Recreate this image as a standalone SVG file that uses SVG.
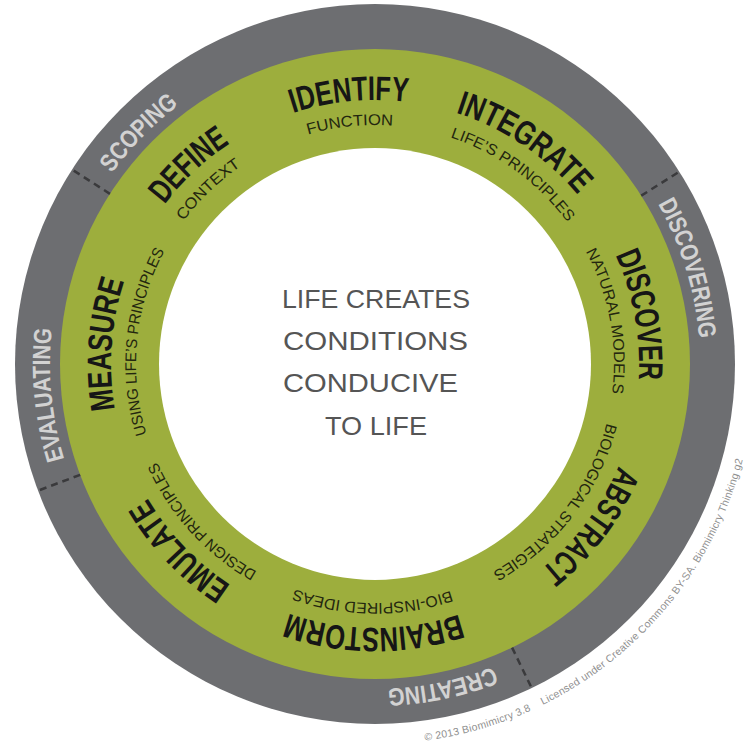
<svg xmlns="http://www.w3.org/2000/svg" width="750" height="745" viewBox="0 0 750 745">
<style>
 .title{font-family:"Liberation Sans",Arial,sans-serif;font-weight:bold;font-size:34px;fill:#161616;}
 .sub{font-family:"Liberation Sans",Arial,sans-serif;font-size:15.5px;fill:#23260f;}
 .phase{font-family:"Liberation Sans",Arial,sans-serif;font-weight:bold;font-size:25px;fill:#d2d2d2;}
 .center{font-family:"Liberation Sans",Arial,sans-serif;font-size:26px;fill:#555555;}
 .credit{font-family:"Liberation Sans",Arial,sans-serif;font-size:10.5px;fill:#8f8f8f;}
 .sep{stroke:#3a3a3c;stroke-width:2.5;stroke-dasharray:7 5;fill:none;}
</style>
<defs>
 <path id="rTitle" d="M111,364 A264,264 0 0 1 639,364"/>
 <path id="rSub" d="M136,364 A239,239 0 0 1 614,364"/>
 <path id="rPhase" d="M50,364 A325,325 0 0 1 700,364"/>
 <path id="rCredit" d="M-5,364 A380,380 0 0 0 755,364"/>
</defs>
<rect width="750" height="745" fill="#ffffff"/>
<g id="rings">
 <circle cx="375" cy="364" r="360" fill="#6d6e71"/>
 <circle cx="375" cy="364" r="315" fill="#9dae3d"/>
 <circle cx="375" cy="364" r="216" fill="#ffffff"/>
</g>
<g id="connectors">
 <line class="sep" x1="690" y1="364" x2="735" y2="364" transform="rotate(212.7 375 364)"/>
 <line class="sep" x1="690" y1="364" x2="735" y2="364" transform="rotate(327.7 375 364)"/>
 <line class="sep" x1="690" y1="364" x2="735" y2="364" transform="rotate(64.2 375 364)"/>
 <line class="sep" x1="690" y1="364" x2="735" y2="364" transform="rotate(159.4 375 364)"/>
</g>
<g id="phase-scoping">
 <text class="phase" text-anchor="middle" transform="rotate(-45.6 375 364)"><textPath href="#rPhase" startOffset="50%" textLength="96" lengthAdjust="spacingAndGlyphs">SCOPING</textPath></text>
</g>
<g id="phase-discovering">
 <text class="phase" text-anchor="middle" transform="rotate(73 375 364)"><textPath href="#rPhase" startOffset="50%" textLength="142" lengthAdjust="spacingAndGlyphs">DISCOVERING</textPath></text>
</g>
<g id="phase-creating">
 <text class="phase" text-anchor="middle" transform="rotate(168.2 375 364)"><textPath href="#rPhase" startOffset="50%" textLength="109" lengthAdjust="spacingAndGlyphs">CREATING</textPath></text>
</g>
<g id="phase-evaluating">
 <text class="phase" text-anchor="middle" transform="rotate(264.6 375 364)"><textPath href="#rPhase" startOffset="50%" textLength="132" lengthAdjust="spacingAndGlyphs">EVALUATING</textPath></text>
</g>
<g id="step-identify">
 <text class="title" text-anchor="middle" transform="rotate(-5.5 375 364)"><textPath href="#rTitle" startOffset="50%" textLength="116" lengthAdjust="spacingAndGlyphs">IDENTIFY</textPath></text>
 <text class="sub" text-anchor="middle" transform="rotate(-6 375 364)"><textPath href="#rSub" startOffset="50%" textLength="86" lengthAdjust="spacingAndGlyphs">FUNCTION</textPath></text>
</g>
<g id="step-define">
 <text class="title" text-anchor="middle" transform="rotate(-43.1 375 364)"><textPath href="#rTitle" startOffset="50%" textLength="90" lengthAdjust="spacingAndGlyphs">DEFINE</textPath></text>
 <text class="sub" text-anchor="middle" transform="rotate(-43.7 375 364)"><textPath href="#rSub" startOffset="50%" textLength="80" lengthAdjust="spacingAndGlyphs">CONTEXT</textPath></text>
</g>
<g id="step-integrate">
 <text class="title" text-anchor="middle" transform="rotate(34 375 364)"><textPath href="#rTitle" startOffset="50%" textLength="149" lengthAdjust="spacingAndGlyphs">INTEGRATE</textPath></text>
 <text class="sub" text-anchor="middle" transform="rotate(36 375 364)"><textPath href="#rSub" startOffset="50%" textLength="147" lengthAdjust="spacingAndGlyphs">LIFE’S PRINCIPLES</textPath></text>
</g>
<g id="step-discover">
 <text class="title" text-anchor="middle" transform="rotate(79.5 375 364)"><textPath href="#rTitle" startOffset="50%" textLength="128" lengthAdjust="spacingAndGlyphs">DISCOVER</textPath></text>
 <text class="sub" text-anchor="middle" transform="rotate(79.5 375 364)"><textPath href="#rSub" startOffset="50%" textLength="147" lengthAdjust="spacingAndGlyphs">NATURAL MODELS</textPath></text>
</g>
<g id="step-abstract">
 <text class="title" text-anchor="middle" transform="rotate(126.9 375 364)"><textPath href="#rTitle" startOffset="50%" textLength="131" lengthAdjust="spacingAndGlyphs">ABSTRACT</textPath></text>
 <text class="sub" text-anchor="middle" transform="rotate(127.4 375 364)"><textPath href="#rSub" startOffset="50%" textLength="193" lengthAdjust="spacingAndGlyphs">BIOLOGICAL STRATEGIES</textPath></text>
</g>
<g id="step-brainstorm">
 <text class="title" text-anchor="middle" transform="rotate(180.3 375 364)"><textPath href="#rTitle" startOffset="50%" textLength="174" lengthAdjust="spacingAndGlyphs">BRAINSTORM</textPath></text>
 <text class="sub" text-anchor="middle" transform="rotate(180.6 375 364)"><textPath href="#rSub" startOffset="50%" textLength="159" lengthAdjust="spacingAndGlyphs">BIO-INSPIRED IDEAS</textPath></text>
</g>
<g id="step-emulate">
 <text class="title" text-anchor="middle" transform="rotate(226.3 375 364)"><textPath href="#rTitle" startOffset="50%" textLength="122" lengthAdjust="spacingAndGlyphs">EMULATE</textPath></text>
 <text class="sub" text-anchor="middle" transform="rotate(227.7 375 364)"><textPath href="#rSub" startOffset="50%" textLength="151" lengthAdjust="spacingAndGlyphs">DESIGN PRINCIPLES</textPath></text>
</g>
<g id="step-measure">
 <text class="title" text-anchor="middle" transform="rotate(274.2 375 364)"><textPath href="#rTitle" startOffset="50%" textLength="130" lengthAdjust="spacingAndGlyphs">MEASURE</textPath></text>
 <text class="sub" text-anchor="middle" transform="rotate(275.6 375 364)"><textPath href="#rSub" startOffset="50%" textLength="189" lengthAdjust="spacingAndGlyphs">USING LIFE’S PRINCIPLES</textPath></text>
</g>
<g id="center">
 <text class="center" x="282" y="308" textLength="188" lengthAdjust="spacingAndGlyphs">LIFE CREATES</text>
 <text class="center" x="283" y="350" textLength="185" lengthAdjust="spacingAndGlyphs">CONDITIONS</text>
 <text class="center" x="283" y="392" textLength="175" lengthAdjust="spacingAndGlyphs">CONDUCIVE</text>
 <text class="center" x="325" y="435" textLength="102" lengthAdjust="spacingAndGlyphs">TO LIFE</text>
</g>
<g id="credit">
 <text class="credit" text-anchor="middle" transform="rotate(-41.5 375 364)"><textPath href="#rCredit" startOffset="50%" textLength="450" lengthAdjust="spacing">© 2013 Biomimicry 3.8&#160;&#160;&#160; Licensed under Creative Commons BY-SA. Biomimicry Thinking g2</textPath></text>
</g>
</svg>
